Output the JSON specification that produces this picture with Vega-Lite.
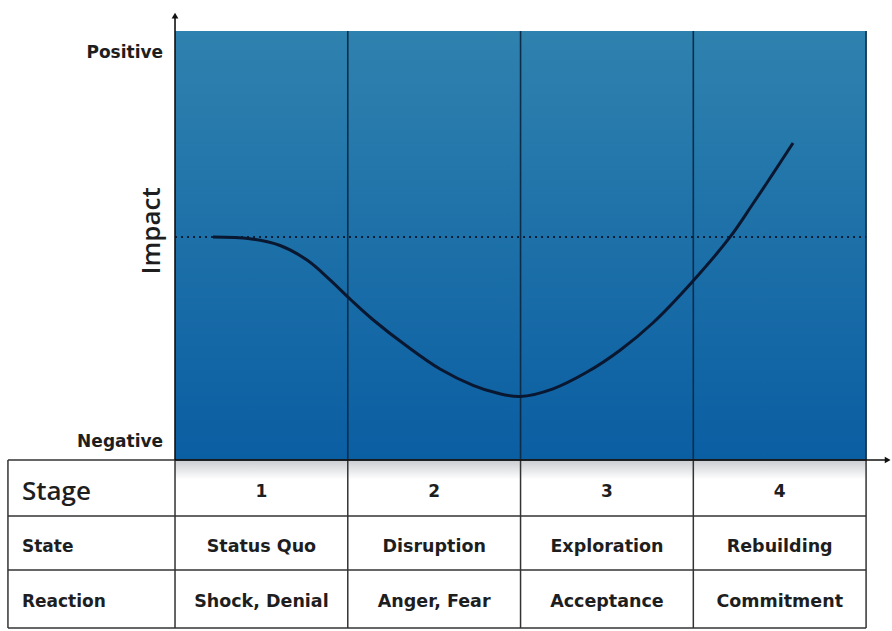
{
  "$schema": "https://vega.github.io/schema/vega-lite/v6.json",
  "width": 892,
  "height": 631,
  "padding": 0,
  "autosize": {"type": "fit", "contains": "padding"},
  "background": "white",
  "config": {"view": {"stroke": null}},
  "datasets": {
    "curve": [
      {"u": 0.220, "v": 0.520}, {"u": 0.434, "v": 0.516}, {"u": 0.608, "v": 0.500},
      {"u": 0.764, "v": 0.466}, {"u": 0.897, "v": 0.420}, {"u": 1.019, "v": 0.373},
      {"u": 1.146, "v": 0.327}, {"u": 1.343, "v": 0.265},
      {"u": 1.534, "v": 0.212}, {"u": 1.725, "v": 0.174}, {"u": 1.864, "v": 0.156},
      {"u": 1.997, "v": 0.148}, {"u": 2.188, "v": 0.166}, {"u": 2.385, "v": 0.205},
      {"u": 2.576, "v": 0.256}, {"u": 2.767, "v": 0.320}, {"u": 2.993, "v": 0.415},
      {"u": 3.213, "v": 0.520}, {"u": 3.346, "v": 0.598},
      {"u": 3.462, "v": 0.668}, {"u": 3.577, "v": 0.739}
    ],
    "stages": [
      {"stage": "1", "state": "Status Quo", "reaction": "Shock, Denial", "mid": 0.5},
      {"stage": "2", "state": "Disruption", "reaction": "Anger, Fear", "mid": 1.5},
      {"stage": "3", "state": "Exploration", "reaction": "Acceptance", "mid": 2.5},
      {"stage": "4", "state": "Rebuilding", "reaction": "Commitment", "mid": 3.5}
    ],
    "tableH": [
      {"u0": -0.967, "u1": 4, "v": 0},
      {"u0": -0.967, "u1": 4, "v": -0.1305},
      {"u0": -0.967, "u1": 4, "v": -0.2564},
      {"u0": -0.967, "u1": 4, "v": -0.3916}
    ],
    "tableV": [
      {"u": -0.967}, {"u": 0}, {"u": 1}, {"u": 2}, {"u": 3}, {"u": 4}
    ],
    "plotV": [{"u": 1}, {"u": 2}, {"u": 3}, {"u": 4}],
    "rowLabels": [
      {"label": "State", "v": -0.2028},
      {"label": "Reaction", "v": -0.331}
    ],
    "yLabels": [
      {"label": "Positive", "v": 0.949},
      {"label": "Negative", "v": 0.042}
    ]
  },
  "encoding": {},
  "layer": [
    {
      "data": {"values": [{"u0": 0, "u1": 4, "v0": 0, "v1": -0.045}]},
      "mark": {
        "type": "rect",
        "color": {"gradient": "linear", "x1": 0, "y1": 0, "x2": 0, "y2": 1,
          "stops": [{"offset": 0, "color": "#c9ccd0"}, {"offset": 1, "color": "#ffffff"}]}
      },
      "encoding": {
        "x": {"field": "u0", "type": "quantitative", "scale": {"domain": [-1.013, 4.15], "nice": false, "zero": false}, "axis": null},
        "x2": {"field": "u1"},
        "y": {"field": "v0", "type": "quantitative", "scale": {"domain": [-0.3986, 1.0723], "nice": false, "zero": false}, "axis": null},
        "y2": {"field": "v1"}
      }
    },
    {
      "data": {"values": [{"u0": 0, "u1": 4, "v0": 0, "v1": 1}]},
      "mark": {
        "type": "rect",
        "color": {"gradient": "linear", "x1": 0, "y1": 0, "x2": 0, "y2": 1,
          "stops": [{"offset": 0, "color": "#2f82ae"}, {"offset": 1, "color": "#0a5ea2"}]}
      },
      "encoding": {
        "x": {"field": "u0", "type": "quantitative"},
        "x2": {"field": "u1"},
        "y": {"field": "v0", "type": "quantitative"},
        "y2": {"field": "v1"}
      }
    },
    {
      "data": {"name": "plotV"},
      "mark": {"type": "rule", "color": "#0c2c4a", "strokeWidth": 1.6},
      "encoding": {
        "x": {"field": "u", "type": "quantitative"},
        "y": {"datum": 0},
        "y2": {"datum": 1}
      }
    },
    {
      "data": {"values": [{"u0": 0, "u1": 4, "v": 0.5198}]},
      "mark": {"type": "rule", "color": "#0a2038", "strokeWidth": 2, "strokeDash": [2, 4]},
      "encoding": {
        "x": {"field": "u0", "type": "quantitative"},
        "x2": {"field": "u1"},
        "y": {"field": "v", "type": "quantitative"}
      }
    },
    {
      "data": {"name": "curve"},
      "mark": {"type": "line", "color": "#0a1730", "strokeWidth": 3, "interpolate": "catmull-rom"},
      "encoding": {
        "x": {"field": "u", "type": "quantitative"},
        "y": {"field": "v", "type": "quantitative"}
      }
    },
    {
      "data": {"name": "tableH"},
      "mark": {"type": "rule", "color": "#333333", "strokeWidth": 1.5},
      "encoding": {
        "x": {"field": "u0", "type": "quantitative"},
        "x2": {"field": "u1"},
        "y": {"field": "v", "type": "quantitative"}
      }
    },
    {
      "data": {"name": "tableV"},
      "mark": {"type": "rule", "color": "#333333", "strokeWidth": 1.5},
      "encoding": {
        "x": {"field": "u", "type": "quantitative"},
        "y": {"datum": 0},
        "y2": {"datum": -0.3916}
      }
    },
    {
      "data": {"values": [{"u0": 0, "u1": 4.13, "v": 0}]},
      "mark": {"type": "rule", "color": "#111111", "strokeWidth": 1.6},
      "encoding": {
        "x": {"field": "u0", "type": "quantitative"},
        "x2": {"field": "u1"},
        "y": {"field": "v", "type": "quantitative"}
      }
    },
    {
      "data": {"values": [{"u": 0, "v0": 0, "v1": 1.035}]},
      "mark": {"type": "rule", "color": "#111111", "strokeWidth": 1.6},
      "encoding": {
        "x": {"field": "u", "type": "quantitative"},
        "y": {"field": "v0", "type": "quantitative"},
        "y2": {"field": "v1"}
      }
    },
    {
      "data": {"values": [{"u": 0, "v": 1.036}]},
      "mark": {"type": "point", "shape": "triangle-up", "filled": true, "color": "#111111", "size": 45, "opacity": 1},
      "encoding": {
        "x": {"field": "u", "type": "quantitative"},
        "y": {"field": "v", "type": "quantitative"}
      }
    },
    {
      "data": {"values": [{"u": 4.125, "v": 0}]},
      "mark": {"type": "point", "shape": "triangle-right", "filled": true, "color": "#111111", "size": 45, "opacity": 1},
      "encoding": {
        "x": {"field": "u", "type": "quantitative"},
        "y": {"field": "v", "type": "quantitative"}
      }
    },
    {
      "data": {"values": [{"label": "Stage", "u": -0.886, "v": -0.0746}]},
      "mark": {"type": "text", "font": "Open Sans", "fontWeight": 600, "fontSize": 26, "align": "left", "baseline": "middle", "color": "#1e1e1e"},
      "encoding": {
        "x": {"field": "u", "type": "quantitative"},
        "y": {"field": "v", "type": "quantitative"},
        "text": {"field": "label"}
      }
    },
    {
      "data": {"name": "rowLabels"},
      "mark": {"type": "text", "font": "DejaVu Sans", "fontWeight": "bold", "fontSize": 17, "align": "left", "baseline": "middle", "color": "#1e1e1e"},
      "encoding": {
        "x": {"datum": -0.886},
        "y": {"field": "v", "type": "quantitative"},
        "text": {"field": "label"}
      }
    },
    {
      "data": {"name": "stages"},
      "mark": {"type": "text", "font": "DejaVu Sans", "fontWeight": "bold", "fontSize": 17, "align": "center", "baseline": "middle", "color": "#1e1e1e"},
      "encoding": {
        "x": {"field": "mid", "type": "quantitative"},
        "y": {"datum": -0.0746},
        "text": {"field": "stage"}
      }
    },
    {
      "data": {"name": "stages"},
      "mark": {"type": "text", "font": "DejaVu Sans", "fontWeight": "bold", "fontSize": 17.5, "align": "center", "baseline": "middle", "color": "#1e1e1e"},
      "encoding": {
        "x": {"field": "mid", "type": "quantitative"},
        "y": {"datum": -0.2028},
        "text": {"field": "state"}
      }
    },
    {
      "data": {"name": "stages"},
      "mark": {"type": "text", "font": "DejaVu Sans", "fontWeight": "bold", "fontSize": 17.5, "align": "center", "baseline": "middle", "color": "#1e1e1e"},
      "encoding": {
        "x": {"field": "mid", "type": "quantitative"},
        "y": {"datum": -0.331},
        "text": {"field": "reaction"}
      }
    },
    {
      "data": {"name": "yLabels"},
      "mark": {"type": "text", "font": "DejaVu Sans", "fontWeight": "bold", "fontSize": 17, "align": "right", "baseline": "middle", "color": "#1e1e1e"},
      "encoding": {
        "x": {"datum": -0.069},
        "y": {"field": "v", "type": "quantitative"},
        "text": {"field": "label"}
      }
    },
    {
      "data": {"values": [{"label": "Impact", "u": -0.133, "v": 0.534}]},
      "mark": {"type": "text", "font": "Open Sans", "fontWeight": 600, "fontSize": 26, "angle": 270, "align": "center", "baseline": "middle", "color": "#1e1e1e"},
      "encoding": {
        "x": {"field": "u", "type": "quantitative"},
        "y": {"field": "v", "type": "quantitative"},
        "text": {"field": "label"}
      }
    }
  ]
}
